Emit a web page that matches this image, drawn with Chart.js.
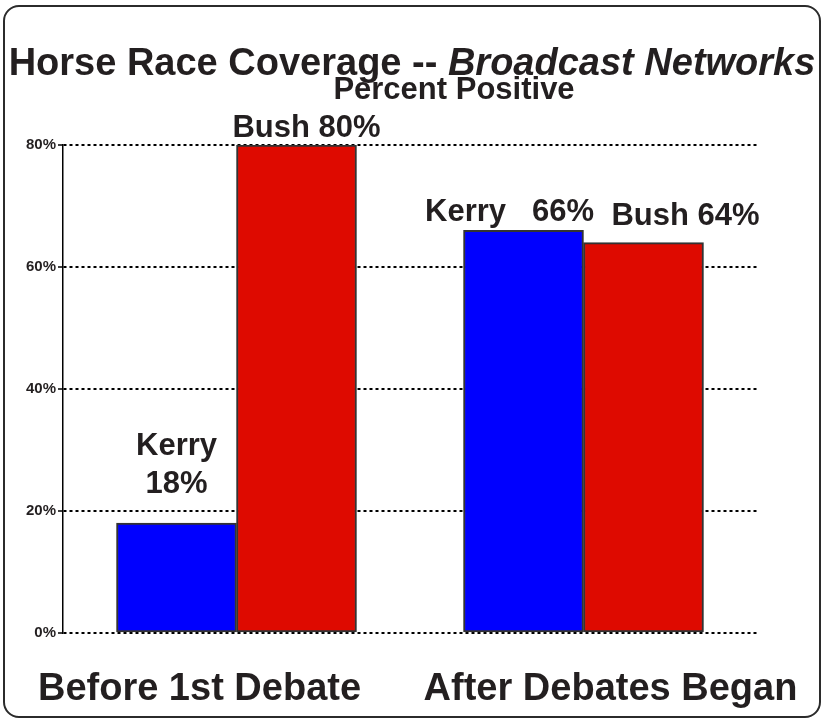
<!DOCTYPE html>
<html>
<head>
<meta charset="utf-8">
<script src="https://cdn.jsdelivr.net/npm/chart.js@4/dist/chart.umd.min.js"></script>
<style>
  html, body { margin: 0; padding: 0; background: #fff; }
  #wrap { position: relative; width: 824px; height: 719px; }
  #frame {
    position: absolute; left: 3px; top: 5px; width: 814px; height: 709px;
    border: 2px solid #2b2b2b; border-radius: 16px; pointer-events: none;
  }
  canvas { position: absolute; left: 0; top: 0; }
</style>
</head>
<body>
<div id="wrap">
  <canvas id="horseRace" width="824" height="719"></canvas>
  <div id="frame"></div>
</div>
<script>
const periods = ['Before 1st Debate', 'After Debates Began'];
const candidates = ['Kerry', 'Bush'];
const kerryValues = [18, 66];
const bushValues = [80, 64];
const yTicks = [0, 20, 40, 60, 80];
const titleMain = 'Horse Race Coverage -- ';
const titleItalic = 'Broadcast Networks';
const subtitle = 'Percent Positive';

const inkColor = '#231f20';
const fontFamily = 'Arial, "Liberation Sans", Helvetica, sans-serif';

// where each value label sits relative to the top centre of its bar
const labelPlacement = {
  Kerry: [{ dx: 0, dy: -30, twoLines: true }, { dx: -14, dy: -9, gap: '   ' }],
  Bush: [{ dx: 10, dy: -8 }, { dx: 42, dy: -18 }]
};
// category names are nudged off the group centres
const periodShift = [-37, 27];

const headingPlugin = {
  id: 'heading',
  afterDraw(chart) {
    const ctx = chart.ctx;
    ctx.save();
    ctx.fillStyle = inkColor;
    ctx.textBaseline = 'alphabetic';
    ctx.textAlign = 'left';
    const boldFont = 'bold 38px ' + fontFamily;
    const italicFont = 'italic bold 38px ' + fontFamily;
    ctx.font = boldFont;
    const w1 = ctx.measureText(titleMain).width;
    ctx.font = italicFont;
    const w2 = ctx.measureText(titleItalic).width;
    const x = 412 - (w1 + w2) / 2;
    ctx.font = boldFont;
    ctx.fillText(titleMain, x, 75);
    ctx.font = italicFont;
    ctx.fillText(titleItalic, x + w1, 75);

    ctx.font = 'bold 31px ' + fontFamily;
    ctx.textAlign = 'center';
    ctx.fillText(subtitle, 454, 99);

    // period names under the bar groups
    const xScale = chart.scales.x;
    ctx.font = 'bold 38px ' + fontFamily;
    chart.data.labels.forEach((name, i) => {
      ctx.fillText(name, xScale.getPixelForTick(i) + periodShift[i], 700);
    });
    ctx.restore();
  }
};

const valueLabelPlugin = {
  id: 'valueLabels',
  afterDatasetsDraw(chart) {
    const ctx = chart.ctx;
    ctx.save();
    ctx.fillStyle = inkColor;
    ctx.font = 'bold 31px ' + fontFamily;
    ctx.textAlign = 'center';
    ctx.textBaseline = 'alphabetic';
    chart.data.datasets.forEach((ds, i) => {
      const meta = chart.getDatasetMeta(i);
      meta.data.forEach((bar, j) => {
        const p = labelPlacement[ds.label][j];
        const value = ds.data[j] + '%';
        const x = bar.x + p.dx;
        const y = bar.y + p.dy;
        if (p.twoLines) {
          ctx.fillText(ds.label, x, y - 38);
          ctx.fillText(value, x, y);
        } else {
          ctx.fillText(ds.label + (p.gap || ' ') + value, x, y);
        }
      });
    });
    ctx.restore();
  }
};

new Chart(document.getElementById('horseRace'), {
  type: 'bar',
  data: {
    labels: periods,
    datasets: [{
      label: candidates[0],
      data: kerryValues,
      backgroundColor: '#0000ff',
      borderColor: '#333333',
      borderWidth: 2,
      borderSkipped: false,
      barThickness: 120
    }, {
      label: candidates[1],
      data: bushValues,
      backgroundColor: '#de0a00',
      borderColor: '#333333',
      borderWidth: 2,
      borderSkipped: false,
      barThickness: 120
    }]
  },
  options: {
    responsive: false,
    animation: false,
    devicePixelRatio: 1,
    layout: { padding: { left: 0, right: 67, top: 145, bottom: 0 } },
    plugins: {
      legend: { display: false },
      title: { display: false },
      tooltip: { enabled: false }
    },
    scales: {
      x: {
        grid: { display: false, drawTicks: false },
        border: { display: false },
        ticks: { display: false },
        afterFit(scale) {
          scale.height = 86;
          scale.paddingLeft = 0;
          scale.paddingRight = 0;
        }
      },
      y: {
        min: 0,
        max: 80,
        afterBuildTicks(scale) { scale.ticks = yTicks.map(v => ({ value: v })); },
        grid: {
          color: '#000',
          lineWidth: 2,
          tickColor: '#000',
          tickWidth: 1.5,
          tickLength: 5,
          tickBorderDash: []
        },
        border: { display: true, color: '#000', width: 1.5, dash: [3, 3] },
        ticks: {
          color: inkColor,
          padding: 2,
          font: { family: fontFamily, size: 15, weight: 'bold' },
          callback: v => v + '%'
        },
        afterFit(scale) { scale.width = 63; }
      }
    }
  },
  plugins: [headingPlugin, valueLabelPlugin]
});
</script>
</body>
</html>
